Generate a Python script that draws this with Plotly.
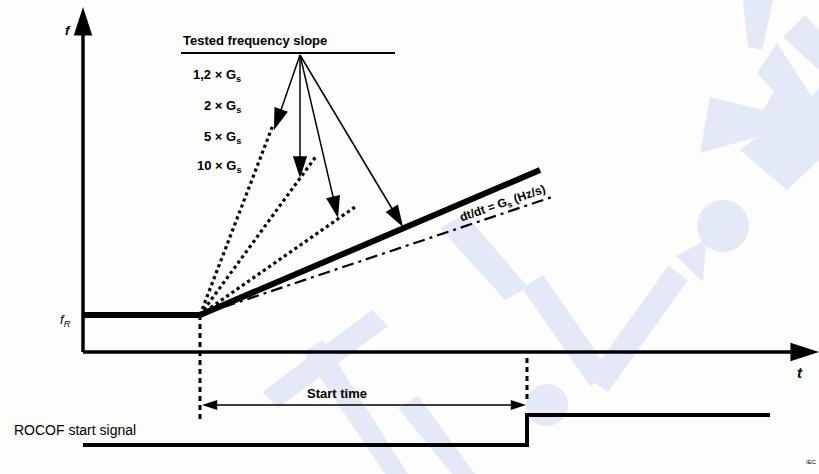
import plotly.graph_objects as go

# ---- data (diagram units: t to the right, f upward; origin at axes corner) ----
t_start = 117          # instant where frequency ramp starts
f_R = 37               # rated frequency level
t_trip = 444           # ROCOF start signal step instant
t_end_signal = 687
t_axis_end = 734
f_axis_end = 345

# ramp end points (t, f) for tested slopes (dotted) and nominal lines
dotted_end_t = [190, 234, 272]
dotted_end_f = [227, 197, 145]
solid_end = (457, 182)
dashdot_end = (472, 156)

# labels for tested slopes
slope_labels = ["1,2 × G<sub>s</sub>", "2 × G<sub>s</sub>", "5 × G<sub>s</sub>", "10 × G<sub>s</sub>"]
slope_label_f = [277, 246, 215, 186]
# arrow targets from the heading hub
hub = (217, 297)
arrow_t = [191, 217, 255, 320]
arrow_f = [222, 174, 134, 125]

sig_low, sig_high = -93, -63
vline_trip = (-6, -48)
start_arrow_f = -53

FONT = "Liberation Sans Narrow, Arial Narrow, Liberation Sans, Arial"
WM = "#e3e9f7"  # watermark tint

# faint background watermark (image pixel outlines, converted below)
watermark_polys = [
    [(440, 228), (465, 214), (528, 287), (505, 300)],
    [(522, 288), (543, 275), (610, 372), (590, 386)],
    [(588, 378), (668, 266), (688, 280), (608, 392)],
    [(676, 256), (706, 240), (703, 282)],
    [(262, 392), (372, 310), (388, 326), (278, 408)],
    [(303, 352), (323, 340), (408, 474), (385, 474)],
    [(398, 408), (418, 396), (475, 474), (452, 474)],
    [(710, 97), (763, 110), (777, 87), (807, 103), (819, 87), (819, 160),
     (787, 190), (740, 150), (757, 137), (700, 153)],
    [(757, 73), (777, 43), (819, 108), (819, 140)],
    [(743, 0), (773, 0), (762, 50), (748, 47)],
    [(783, 37), (805, 15), (819, 30), (819, 70)],
]
watermark_circles = [(723, 226, 26), (547, 405, 21)]

def px2d(p):
    return p[0] - 83, 352 - p[1]

shapes = []
for poly in watermark_polys:
    pts = [px2d(p) for p in poly]
    path = "M" + " L".join(f"{a},{b}" for a, b in pts) + " Z"
    shapes.append(dict(type="path", path=path, xref="x", yref="y", fillcolor=WM,
                       line=dict(width=0), layer="below"))
for cx, cy, r in watermark_circles:
    x0, y0 = px2d((cx - r, cy + r))
    x1, y1 = px2d((cx + r, cy - r))
    shapes.append(dict(type="circle", x0=x0, y0=y0, x1=x1, y1=y1, xref="x", yref="y",
                       fillcolor=WM, line=dict(width=0), layer="below"))

fig = go.Figure()

def seg(xs, ys, width, dash="solid", head=None):
    kw = dict(x=xs, y=ys, line=dict(color="black", width=width, dash=dash))
    if head:
        kw["mode"] = "lines+markers"
        kw["marker"] = dict(symbol=["circle", "arrow"], size=[0, head], color="#000000",
                            opacity=1, angleref="previous", line=dict(width=0))
    else:
        kw["mode"] = "lines"
    fig.add_trace(go.Scatter(**kw))

# axes with arrow heads
seg([0, 0], [0, f_axis_end], 3.5, head=30)
seg([0, t_axis_end + 2], [0, 0], 3.5, head=30)
# f_R level
seg([0, t_start], [f_R, f_R], 6)
# dotted tested slopes
for te, fe in zip(dotted_end_t, dotted_end_f):
    seg([t_start, te], [f_R, fe], 3.2, dash="dot")
# dash-dot reference slope
seg([t_start, dashdot_end[0]], [f_R, dashdot_end[1]], 2.2, dash="12px,5px,3px,5px")
# solid thick slope
seg([t_start, solid_end[0]], [f_R, solid_end[1]], 6)
# vertical dashed markers
seg([t_start, t_start], [f_R, -70], 3, dash="5px,4px")
seg([t_trip, t_trip], list(vline_trip), 3, dash="5px,4px")
# heading underline
seg([98, 312], [hub[1] + 2, hub[1] + 2], 2)
# arrows from the heading hub
for at, af in zip(arrow_t, arrow_f):
    seg([hub[0], at], [hub[1], af], 1.5, head=23)
# start time double arrow
mid = (t_start + t_trip) / 2
seg([mid, t_start + 2], [start_arrow_f, start_arrow_f], 1.3, head=16)
seg([mid, t_trip - 1], [start_arrow_f, start_arrow_f], 1.3, head=16)
# ROCOF start signal
seg([0, t_trip, t_trip, t_end_signal], [sig_low, sig_low, sig_high, sig_high], 4)

ann = []
def txt(x, y, s, size=13, xanchor="center", angle=0, style="normal", weight="bold"):
    ann.append(dict(x=x, y=y, xref="x", yref="y", text=s, showarrow=False, xanchor=xanchor,
                    yanchor="middle", textangle=angle,
                    font=dict(family=FONT, size=size, color="black", style=style, weight=weight)))

txt(172, 312, "Tested frequency slope", size=13)
for lab, fy in zip(slope_labels, slope_label_f):
    txt(160, fy, lab, size=13, xanchor="right")
txt(420, 148, "dt/dt = G<sub>s</sub> (Hz/s)", size=12, angle=-19)
txt(254, -41, "Start time", size=13)
txt(-71, -78, "ROCOF start signal", size=14, xanchor="left", weight="normal")
txt(-15, 322, "f", size=13, style="italic")
txt(-18, 32, "f<sub>R</sub>", size=13, style="italic", weight="normal")
txt(717, -20, "t", size=15, style="italic")
txt(728, -110, "IEC", size=6, weight="normal")

fig.update_layout(
    annotations=ann, shapes=shapes,
    width=819, height=474, margin=dict(l=0, r=0, t=0, b=0),
    paper_bgcolor="#fdfdfb", plot_bgcolor="#fdfdfb", showlegend=False,
    xaxis=dict(range=[-83, 736], visible=False, fixedrange=True),
    yaxis=dict(range=[-122, 352], visible=False, fixedrange=True),
)
fig.write_html("out.html", config={"displayModeBar": False},
               post_script="document.body.style.margin='0';document.body.style.overflow='hidden';")
